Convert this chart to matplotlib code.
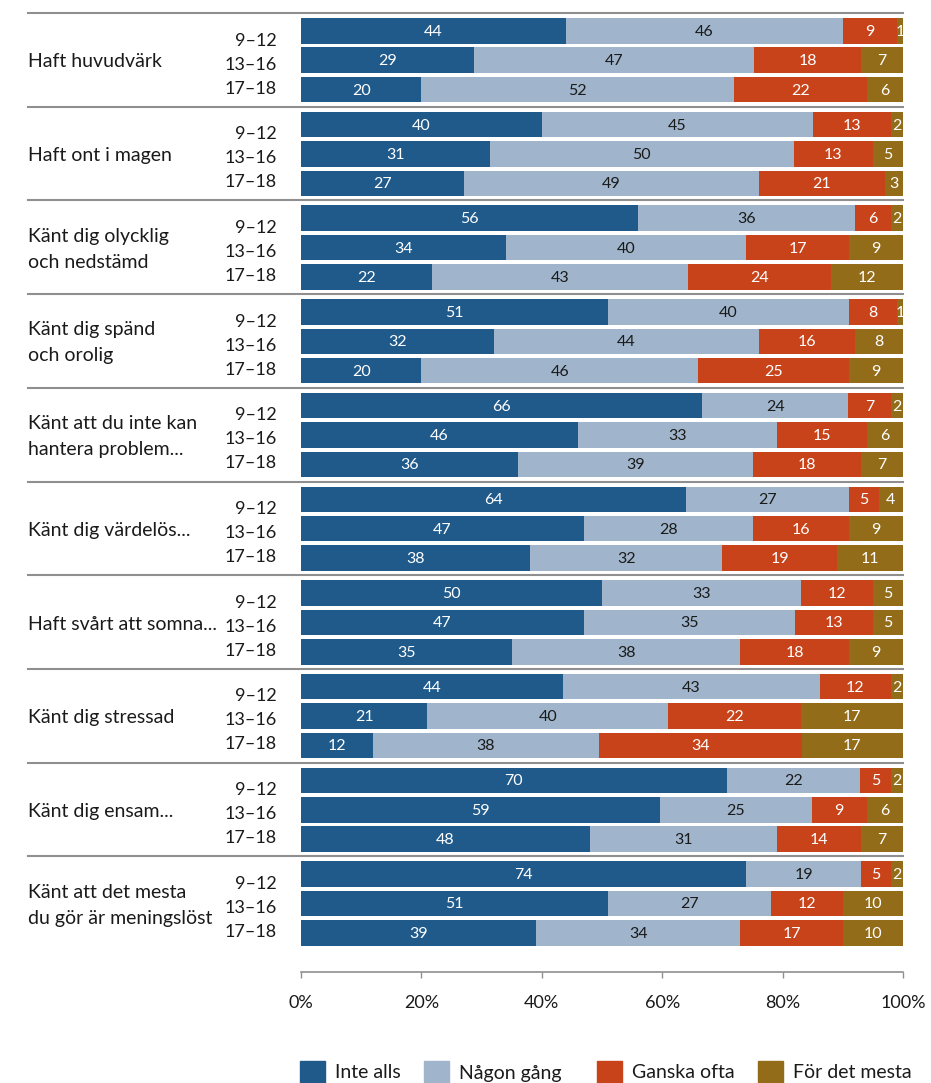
import numpy as np
import matplotlib.pyplot as plt
import matplotlib.transforms as mtransforms
from matplotlib.patches import Rectangle

plt.rcParams['font.family'] = ['Lato', 'DejaVu Sans']

categories = [
    'Haft huvudvärk',
    'Haft ont i magen',
    'Känt dig olycklig\noch nedstämd',
    'Känt dig spänd\noch orolig',
    'Känt att du inte kan\nhantera problem...',
    'Känt dig värdelös...',
    'Haft svårt att somna...',
    'Känt dig stressad',
    'Känt dig ensam...',
    'Känt att det mesta\ndu gör är meningslöst',
]
ages = ['9–12', '13–16', '17–18']
answers = ['Inte alls', 'Någon gång', 'Ganska ofta', 'För det mesta']
colors = ['#1f5a8b', '#a0b5cb', '#c8431a', '#936c19']
text_colors = ['white', '#1a1a1a', 'white', 'white']

# percent per category, rows = age group, cols = answer
values = np.array([
    [[44, 46, 9, 1], [29, 47, 18, 7], [20, 52, 22, 6]],
    [[40, 45, 13, 2], [31, 50, 13, 5], [27, 49, 21, 3]],
    [[56, 36, 6, 2], [34, 40, 17, 9], [22, 43, 24, 12]],
    [[51, 40, 8, 1], [32, 44, 16, 8], [20, 46, 25, 9]],
    [[66, 24, 7, 2], [46, 33, 15, 6], [36, 39, 18, 7]],
    [[64, 27, 5, 4], [47, 28, 16, 9], [38, 32, 19, 11]],
    [[50, 33, 12, 5], [47, 35, 13, 5], [35, 38, 18, 9]],
    [[44, 43, 12, 2], [21, 40, 22, 17], [12, 38, 34, 17]],
    [[70, 22, 5, 2], [59, 25, 9, 6], [48, 31, 14, 7]],
    [[74, 19, 5, 2], [51, 27, 12, 10], [39, 34, 17, 10]],
])

W, H = 931, 1083
fig = plt.figure(figsize=(W / 100, H / 100), dpi=100)
ax = fig.add_axes([301 / W, 1 - 972 / H, 602 / W, 959 / H])

group_h = 93.7
bar_off = 17.8
bar_step = 29.4
bar_h = 25.5
age_off = 27.5
age_step = 24.0

for g, cat in enumerate(categories):
    top = g * group_h
    for i, age in enumerate(ages):
        y = top + bar_off + i * bar_step
        row = values[g, i]
        shares = row / row.sum() * 100
        left = 0
        for k, (v, s) in enumerate(zip(row, shares)):
            ax.barh(y, s, left=left, height=bar_h, color=colors[k], linewidth=0)
            ax.text(left + s / 2, y + 1, str(v), ha='center', va='center',
                    fontsize=11.5, color=text_colors[k])
            left += s
        # age labels sit a little tighter than the bars
        ax.text(-4.0, top + age_off + i * age_step, age, ha='right',
                va='center', fontsize=13, color='#1a1a1a', clip_on=False)
    ax.text(-45.3, top + group_h / 2 + 2, cat, ha='left', va='center',
            fontsize=14, color='#1a1a1a', linespacing=1.65, clip_on=False)

# separators between groups, starting at the left margin
sep_tr = mtransforms.blended_transform_factory(fig.transFigure, ax.transData)
for g in range(len(categories)):
    fig.add_artist(plt.Line2D([28 / W, 903 / W], [g * group_h, g * group_h],
                              transform=sep_tr, color='#8f8f8f', lw=1.5))

ax.set_xlim(0, 100)
ax.set_ylim(959, 0)
ax.set_yticks([])
ax.set_xticks(np.arange(0, 101, 20))
ax.set_xticklabels([f'{t}%' for t in range(0, 101, 20)], fontsize=13,
                   color='#1a1a1a')
ax.tick_params(axis='x', direction='out', length=4.3, width=1,
               color='#8f8f8f', pad=12)
for side in ['top', 'right', 'left']:
    ax.spines[side].set_visible(False)
ax.spines['bottom'].set_color('#8f8f8f')
ax.spines['bottom'].set_linewidth(1.2)

# legend along the bottom edge
legend_x = [300, 424, 597, 758]
for x, lab, c in zip(legend_x, answers, colors):
    fig.add_artist(Rectangle((x / W, 0), 25 / W, 22 / H, color=c,
                             transform=fig.transFigure))
    fig.text((x + 35) / W, 1 - 1073 / H, lab, ha='left', va='center',
             fontsize=14, color='#1a1a1a')

fig.savefig('out.png', dpi=100)
